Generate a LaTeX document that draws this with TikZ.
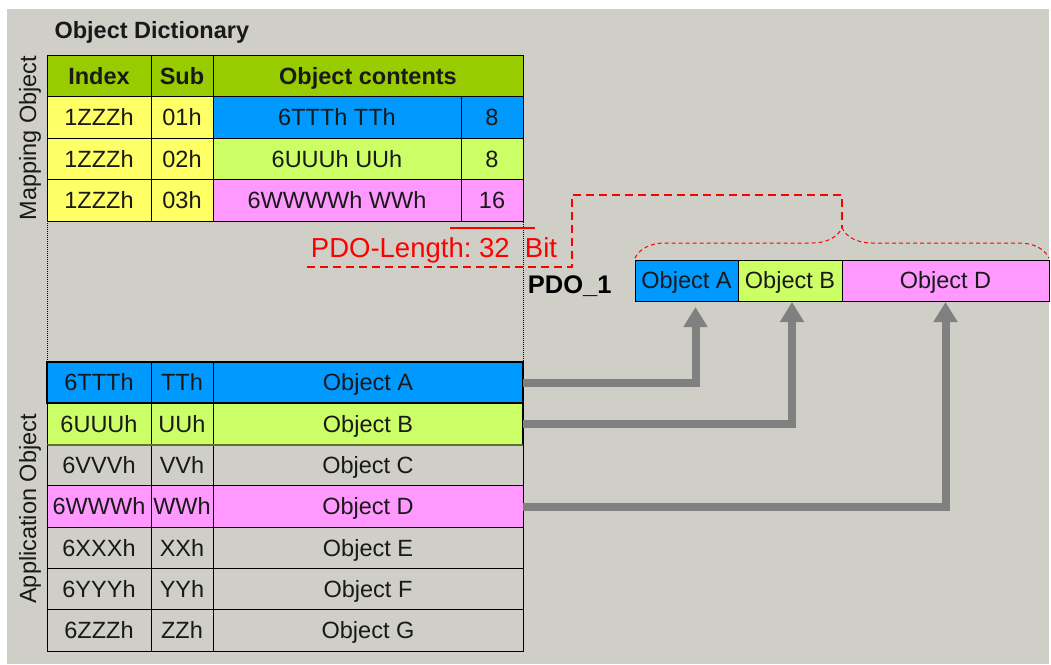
\documentclass[tikz,border=0pt]{standalone}
\usepackage{fontspec}
\setmainfont{Liberation Sans}
\usepackage{tikz}
\usetikzlibrary{positioning}
\usetikzlibrary{arrows.meta}
\usetikzlibrary{decorations.pathreplacing}
\definecolor{bg}{RGB}{207,207,199}
\definecolor{hdgreen}{RGB}{153,204,0}
\definecolor{idxyellow}{RGB}{255,255,102}
\definecolor{objblue}{RGB}{0,153,255}
\definecolor{objlime}{RGB}{204,255,102}
\definecolor{objpink}{RGB}{255,153,255}
\definecolor{arrgray}{RGB}{128,128,128}
\definecolor{pdored}{RGB}{255,0,0}

\begin{document}
\begin{tikzpicture}[x=1pt, y=-1pt, >={Triangle[width=23pt, length=20pt]},
    every node/.style = {font=\fontsize{23.5}{28}\selectfont, text=black!90},
    cell/.style = {draw, line width=0.9pt, inner sep=0pt, outer sep=0pt, minimum height=41.5pt, text height=17pt, text depth=0.5pt},
    acell/.style = {cell, minimum height=41.3pt},
    bold/.style = {font=\fontsize{23.5}{28}\selectfont\bfseries},
    wi/.style = {minimum width=104pt},
    ws/.style = {minimum width=62pt},
    wc/.style = {minimum width=248pt},
    wo/.style = {minimum width=310pt},
    link/.style = {->, draw=arrgray, line width=8pt}
    ]
    \path[use as bounding box, fill=white] (0,0) rectangle (1051,664);
    \fill[bg] (7,9) rectangle (1049,664);

    \node[bold, anchor=west] (title) at (51,32) {Object Dictionary};
    \node[rotate=90] (mapl) at (30,138) {Mapping Object};
    \node[rotate=90] (appl) at (30,509) {Application Object};

    % mapping object
    \node[cell, bold, wi, fill=hdgreen, anchor=north west] (h1) at (47,55) {Index};
    \node[cell, bold, ws, fill=hdgreen] (h2) [right=0pt of h1] {Sub};
    \node[cell, bold, wo, fill=hdgreen] (h3) [right=0pt of h2] {Object contents};

    \node[cell, wi, fill=idxyellow] (i1) [below=0pt of h1] {1ZZZh};
    \node[cell, ws, fill=idxyellow] (s1) [right=0pt of i1] {01h};
    \node[cell, wc, fill=objblue] (c1) [right=0pt of s1] {6TTTh TTh};
    \node[cell, ws, fill=objblue] (l1) [right=0pt of c1] {8};

    \node[cell, wi, fill=idxyellow] (i2) [below=0pt of i1] {1ZZZh};
    \node[cell, ws, fill=idxyellow] (s2) [right=0pt of i2] {02h};
    \node[cell, wc, fill=objlime] (c2) [right=0pt of s2] {6UUUh UUh};
    \node[cell, ws, fill=objlime] (l2) [right=0pt of c2] {8};

    \node[cell, wi, fill=idxyellow] (i3) [below=0pt of i2] {1ZZZh};
    \node[cell, ws, fill=idxyellow] (s3) [right=0pt of i3] {03h};
    \node[cell, wc, fill=objpink] (c3) [right=0pt of s3] {6WWWWh WWh};
    \node[cell, ws, fill=objpink] (l3) [right=0pt of c3] {16};

    % application object
    \node[acell, wi, fill=objblue, anchor=north west] (a1) at (47,362) {6TTTh};
    \node[acell, ws, fill=objblue] (a2) [right=0pt of a1] {TTh};
    \node[acell, wo, fill=objblue] (a3) [right=0pt of a2] {Object A};

    \node[acell, wi, fill=objlime] (b1) [below=0pt of a1] {6UUUh};
    \node[acell, ws, fill=objlime] (b2) [right=0pt of b1] {UUh};
    \node[acell, wo, fill=objlime] (b3) [right=0pt of b2] {Object B};

    \node[acell, wi] (c1a) [below=0pt of b1] {6VVVh};
    \node[acell, ws] (c2a) [right=0pt of c1a] {VVh};
    \node[acell, wo] (c3a) [right=0pt of c2a] {Object C};

    \node[acell, wi, fill=objpink] (d1) [below=0pt of c1a] {6WWWh};
    \node[acell, ws, fill=objpink] (d2) [right=0pt of d1] {WWh};
    \node[acell, wo, fill=objpink] (d3) [right=0pt of d2] {Object D};

    \node[acell, wi] (e1) [below=0pt of d1] {6XXXh};
    \node[acell, ws] (e2) [right=0pt of e1] {XXh};
    \node[acell, wo] (e3) [right=0pt of e2] {Object E};

    \node[acell, wi] (f1) [below=0pt of e1] {6YYYh};
    \node[acell, ws] (f2) [right=0pt of f1] {YYh};
    \node[acell, wo] (f3) [right=0pt of f2] {Object F};

    \node[acell, wi] (g1) [below=0pt of f1] {6ZZZh};
    \node[acell, ws] (g2) [right=0pt of g1] {ZZh};
    \node[acell, wo] (g3) [right=0pt of g2] {Object G};

    \draw[line width=2pt] (a1.north west) rectangle (a3.south east);
    \draw[line width=2pt] (b3.north east) -- (b3.south east);
    \draw[line width=2pt, objlime!45!black] (b1.south west) -- (b3.south east);
    \draw[line width=1pt, dash pattern=on 1pt off 1pt] (h1.north west) rectangle (g3.south east);

    % PDO
    \node[cell, wi, minimum width=103pt, minimum height=41pt, fill=objblue, anchor=north west] (pa) at (635,260) {Object A};
    \node[cell, wi, minimum height=41pt, fill=objlime] (pb) [right=0pt of pa] {Object B};
    \node[cell, minimum width=207pt, minimum height=41pt, fill=objpink] (pd) [right=0pt of pb] {Object D};
    \node[font=\fontsize{25.5}{30}\selectfont\bfseries, text=black, anchor=base east] (pdo) at (615,293) {PDO\_1};

    \coordinate (tip) at ([yshift=32pt]pb.north east);
    \draw[pdored, line width=1pt, dash pattern=on 4pt off 3pt, decorate, decoration={brace, amplitude=30pt}]
        ([yshift=2pt]pa.north west) -- ([yshift=2pt]pd.north east);

    % length
    \draw[pdored, line width=2.5pt] ([xshift=-11pt, yshift=-7pt]l3.south west) -- ([xshift=12pt, yshift=-7pt]l3.south east);
    \node[text=pdored, font=\fontsize{27.5}{32}\selectfont, anchor=base] (plen) at (434,257) {PDO-Length:~32~~Bit};
    \draw[pdored, line width=1.8pt, dash pattern=on 8pt off 5pt] (307,267) -| (572,195) -| (tip);

    % mapping arrows
    \draw[link] (a3.east) -| ([xshift=9pt, yshift=-6pt]pa.south);
    \draw[link] (b3.east) -| ([xshift=2pt, yshift=-1pt]pb.south);
    \draw[link] (d3.east) -| ([yshift=-1pt]pd.south);
\end{tikzpicture}
\end{document}
